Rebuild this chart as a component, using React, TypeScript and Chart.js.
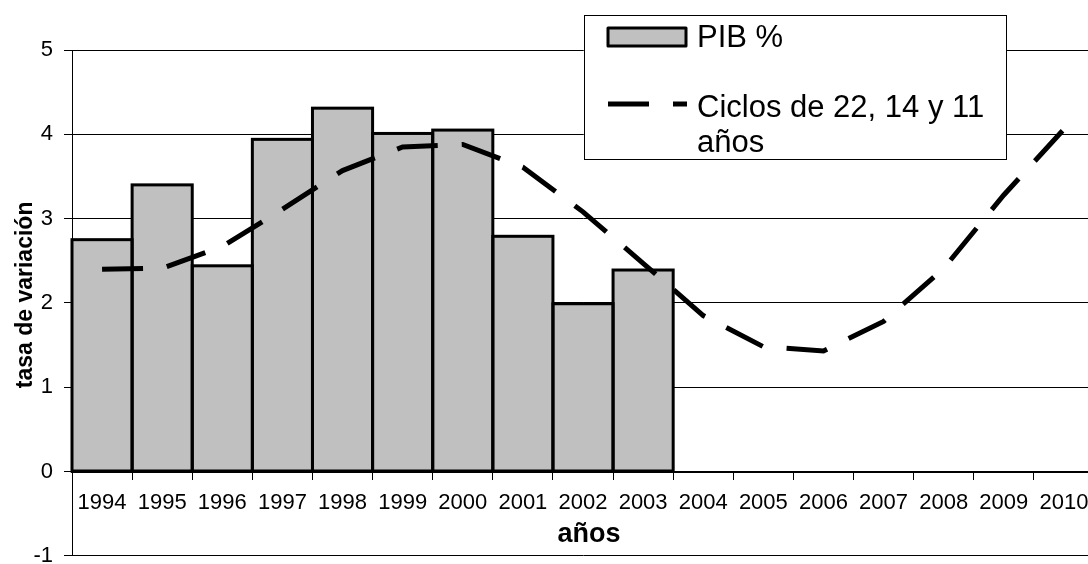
import React, { useEffect, useRef } from "react";
import { Chart, registerables } from "chart.js";

Chart.register(...registerables);

// Years on the category axis
const years = [
  "1994", "1995", "1996", "1997", "1998", "1999", "2000", "2001", "2002",
  "2003", "2004", "2005", "2006", "2007", "2008", "2009", "2010",
];

// Observed GDP growth (%), 1994-2003
const pibValues = [2.75, 3.4, 2.44, 3.94, 4.31, 4.01, 4.05, 2.79, 1.99, 2.39];

// Combined 22, 14 and 11 year cycles, 1994-2010
const cycleValues = [
  2.4, 2.41, 2.67, 3.11, 3.57, 3.85, 3.88, 3.61, 3.08, 2.47, 1.85, 1.48,
  1.43, 1.78, 2.41, 3.28, 4.06,
];

// Value axis ticks
const yTicks = [-1, 0, 1, 2, 3, 4, 5];

const pibLabel = "PIB %";
const cycleLegendLines = ["Ciclos de 22, 14 y 11", "años"];
const xTitle = "años";
const yTitle = "tasa de variación";

const FONT = "'Liberation Sans', Arial, Helvetica, sans-serif";
const BAR_FILL = "#c0c0c0";
const BAR_OUTLINE = 3;

// Outline each bar with a stroke centred on its edges, so neighbouring
// bars share one border line; runs before the line series is painted.
const barOutline = {
  id: "barOutline",
  afterDatasetDraw(chart: any, args: any) {
    const meta = args.meta;
    if (meta.type !== "bar") return;
    const { ctx, chartArea } = chart;
    ctx.save();
    ctx.beginPath();
    ctx.rect(chartArea.left - 2, chartArea.top, chartArea.width + 4, chartArea.height);
    ctx.clip();
    ctx.strokeStyle = "#000000";
    ctx.lineWidth = BAR_OUTLINE;
    ctx.lineJoin = "miter";
    for (const bar of meta.data) {
      const { x, y, base, width } = bar.getProps(["x", "y", "base", "width"], true);
      if (y == null || isNaN(y)) continue;
      const left = x - width / 2;
      ctx.strokeRect(left, Math.min(y, base), width, Math.abs(base - y));
    }
    ctx.restore();
  },
};

// Axis titles, placed relative to the plot area
const axisTitles = {
  id: "axisTitles",
  afterDraw(chart: any) {
    const { ctx, chartArea } = chart;
    const zeroY = chart.scales.y.getPixelForValue(0);
    ctx.save();
    ctx.fillStyle = "#000000";
    ctx.textAlign = "center";
    ctx.textBaseline = "alphabetic";

    ctx.font = `bold 27px ${FONT}`;
    ctx.fillText(xTitle, (chartArea.left + chartArea.right) / 2 + 6, zeroY + 70);

    ctx.font = `bold 23px ${FONT}`;
    ctx.translate(chartArea.left - 40, (chartArea.top + chartArea.bottom) / 2 - 8);
    ctx.rotate(-Math.PI / 2);
    ctx.fillText(yTitle, 0, 0);
    ctx.restore();
  },
};

// Boxed legend drawn over the plot, top right
const boxedLegend = {
  id: "boxedLegend",
  afterDraw(chart: any) {
    const { ctx } = chart;
    const [barSet, lineSet] = chart.data.datasets;
    ctx.save();

    // frame
    ctx.fillStyle = "#ffffff";
    ctx.fillRect(584, 15, 423, 145);
    ctx.strokeStyle = "#000000";
    ctx.lineWidth = 1;
    ctx.strokeRect(584.5, 15.5, 422, 144);

    // bar swatch
    ctx.fillStyle = barSet.backgroundColor;
    ctx.fillRect(608, 28, 78, 18);
    ctx.lineWidth = 3;
    ctx.lineJoin = "round";
    ctx.strokeStyle = "#000000";
    ctx.strokeRect(608, 28, 78, 18);

    // line swatch
    ctx.beginPath();
    ctx.lineWidth = lineSet.borderWidth;
    ctx.setLineDash(lineSet.borderDash);
    ctx.lineCap = "butt";
    ctx.moveTo(608, 104);
    ctx.lineTo(687, 104);
    ctx.stroke();
    ctx.setLineDash([]);

    // texts
    ctx.fillStyle = "#000000";
    ctx.font = `31px ${FONT}`;
    ctx.textAlign = "left";
    ctx.textBaseline = "alphabetic";
    ctx.fillText(barSet.label, 697, 47);
    ctx.fillText(cycleLegendLines[0], 697, 117);
    ctx.fillText(cycleLegendLines[1], 697, 152);
    ctx.restore();
  },
};

export default function App() {
  const canvasRef = useRef<HTMLCanvasElement | null>(null);

  useEffect(() => {
    if (!canvasRef.current) return;
    Chart.defaults.font.family = FONT;
    Chart.defaults.color = "#000000";

    const chart = new Chart(canvasRef.current, {
      type: "bar",
      data: {
        labels: years,
        datasets: [
          {
            type: "bar",
            label: pibLabel,
            data: pibValues,
            backgroundColor: BAR_FILL,
            borderWidth: 0,
            inflateAmount: 0,
            barPercentage: 1,
            categoryPercentage: 1,
            order: 2,
          },
          {
            type: "line",
            label: cycleLegendLines.join(" "),
            data: cycleValues,
            borderColor: "#000000",
            borderWidth: 5,
            borderDash: [41, 24],
            borderCapStyle: "butt",
            borderJoinStyle: "miter",
            pointRadius: 0,
            tension: 0,
            fill: false,
            order: 1,
          },
        ],
      },
      options: {
        responsive: false,
        animation: false,
        devicePixelRatio: 1,
        layout: { padding: { top: 50, right: 6, bottom: 20, left: 0 } },
        plugins: {
          legend: { display: false },
          tooltip: { enabled: false },
        },
        scales: {
          x: {
            position: { y: 0 },
            offset: true,
            grid: {
              offset: true,
              drawOnChartArea: false,
              color: "#000000",
              lineWidth: 1,
              tickLength: 7,
            },
            border: { display: true, color: "#000000", width: 2 },
            ticks: {
              color: "#000000",
              font: { size: 22, family: FONT },
              padding: 11,
              maxRotation: 0,
              autoSkip: false,
            },
          },
          y: {
            min: -1,
            max: 5,
            afterBuildTicks: (scale: any) => {
              scale.ticks = yTicks.map((v) => ({ value: v }));
            },
            afterFit: (scale: any) => {
              scale.width = 72;
            },
            grid: { color: "#000000", lineWidth: 1, tickLength: 8 },
            border: { display: true, color: "#000000", width: 1 },
            ticks: {
              color: "#000000",
              font: { size: 22, family: FONT },
              padding: 11,
            },
          },
        },
      },
      plugins: [barOutline, axisTitles, boxedLegend],
    });

    return () => chart.destroy();
  }, []);

  return (
    <div
      style={{
        position: "fixed",
        left: 0,
        top: 0,
        width: 1088,
        height: 564,
        overflow: "hidden",
        background: "#ffffff",
      }}
    >
      <canvas
        ref={canvasRef}
        width={1100}
        height={580}
        style={{ display: "block", width: 1100, height: 580 }}
      />
    </div>
  );
}
